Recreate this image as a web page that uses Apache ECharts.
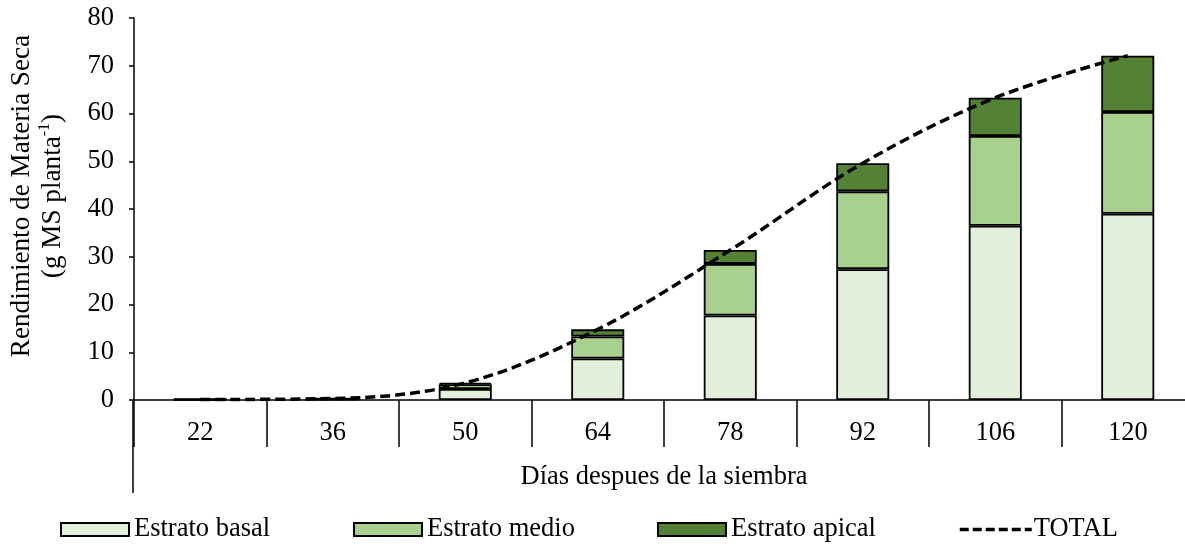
<!DOCTYPE html>
<html>
<head>
<meta charset="utf-8">
<script src="https://cdn.jsdelivr.net/npm/echarts@6/dist/echarts.min.js"></script>
<style>
  html, body { margin: 0; padding: 0; background: #fff; overflow: hidden; }
  #chart { width: 1195px; height: 546px; }
</style>
</head>
<body>
<div id="chart"></div>
<script>
// Days after sowing
const dias = ['22', '36', '50', '64', '78', '92', '106', '120'];

// Dry matter per plant stratum (g MS planta-1)
const estratoBasal  = [0.1, 0.2, 2.3, 8.7, 17.7, 27.4, 36.5, 39.0];
const estratoMedio  = [0.0, 0.1, 1.0, 4.6, 10.8, 16.3, 18.8, 21.3];
const estratoApical = [0.0, 0.0, 0.3, 1.5, 2.9, 5.9, 8.0, 11.8];
const total         = [0.1, 0.3, 3.6, 14.8, 31.4, 49.6, 63.3, 72.1];

const yTicks = { min: 0, max: 80, interval: 10 };

const FONT = 'Liberation Serif, Times New Roman, serif';
const FS = 26.5;
const colors = { basal: '#E2EFDA', medio: '#A9D18E', apical: '#548235' };

const chart = echarts.init(document.getElementById('chart'), null, { renderer: 'canvas' });

const legendBase = {
  orient: 'horizontal',
  top: 516,
  padding: 0,
  itemWidth: 68,
  itemHeight: 13,
  itemGap: 5,
  icon: 'rect',
  textStyle: { fontFamily: FONT, fontSize: FS, color: '#000' }
};

const barSeries = (name, data, color) => ({
  name, type: 'bar', stack: 'estratos', data,
  barWidth: 53,
  itemStyle: { color, borderColor: '#000', borderWidth: 1.8 },
  emphasis: { disabled: true }
});

chart.setOption({
  animation: false,
  textStyle: { fontFamily: FONT },
  grid: { left: 133, right: 1, top: 18, height: 382, containLabel: false },
  legend: [
    Object.assign({}, legendBase, { left: 60, data: ['Estrato basal'] }),
    Object.assign({}, legendBase, { left: 353, data: ['Estrato medio'] }),
    Object.assign({}, legendBase, { left: 657, data: ['Estrato apical'] }),
    Object.assign({}, legendBase, {
      left: 958, itemWidth: 72, icon: undefined,
      itemStyle: { opacity: 0 },
      lineStyle: { color: '#000', width: 3.5, type: [9, 4] },
      textStyle: { fontFamily: FONT, fontSize: FS, color: '#000', padding: [0, 0, 0, -3] },
      data: ['TOTAL']
    })
  ],
  xAxis: {
    type: 'category',
    data: dias,
    boundaryGap: true,
    axisLine: { lineStyle: { color: '#000', width: 1.5 } },
    axisTick: { show: true, alignWithLabel: false, interval: 0, length: 47, lineStyle: { color: '#000', width: 1.5 } },
    axisLabel: { fontFamily: FONT, fontSize: FS, color: '#000', margin: 20 },
    name: 'Días despues de la siembra',
    nameLocation: 'middle',
    nameGap: 64,
    nameTextStyle: { fontFamily: FONT, fontSize: FS, color: '#000' }
  },
  yAxis: {
    type: 'value',
    min: yTicks.min, max: yTicks.max, interval: yTicks.interval,
    axisLine: { show: true, lineStyle: { color: '#000', width: 1.5 } },
    axisTick: { show: true, length: 5, lineStyle: { color: '#000', width: 1.5 } },
    splitLine: { show: false },
    axisLabel: { fontFamily: FONT, fontSize: FS, color: '#000', margin: 20 },
    name: '{a|Rendimiento de Materia Seca}\n{a|(g MS planta}{s|-1}{a|)}',
    nameLocation: 'middle',
    nameRotate: 90,
    nameGap: 66,
    nameTextStyle: {
      color: '#000',
      padding: [0, 0, 0, 26],
      rich: {
        a: { fontFamily: FONT, fontSize: 27.2, color: '#000', lineHeight: 31 },
        s: { fontFamily: FONT, fontSize: 16, color: '#000', verticalAlign: 'top', lineHeight: 31 }
      }
    }
  },
  // extension of the vertical axis through the category-label band
  graphic: [{
    type: 'line',
    shape: { x1: 133, y1: 400, x2: 133, y2: 493 },
    style: { stroke: '#000', lineWidth: 1.5 },
    silent: true
  }],
  series: [
    barSeries('Estrato basal', estratoBasal, colors.basal),
    barSeries('Estrato medio', estratoMedio, colors.medio),
    barSeries('Estrato apical', estratoApical, colors.apical),
    {
      name: 'TOTAL', type: 'line', data: total,
      smooth: 0.35, symbol: 'none', z: 5,
      lineStyle: { color: '#000', width: 3.5, type: [10, 5] },
      itemStyle: { color: '#000' },
      emphasis: { disabled: true }
    }
  ]
});
</script>
</body>
</html>
